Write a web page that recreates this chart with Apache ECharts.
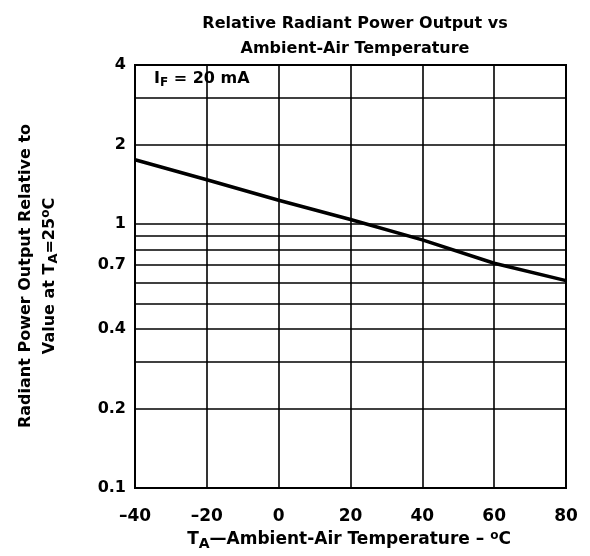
<!DOCTYPE html>
<html><head><meta charset="utf-8">
<script src="https://cdn.jsdelivr.net/npm/echarts@6/dist/echarts.min.js"></script>
<style>html,body{margin:0;padding:0;background:#fff}#c{width:590px;height:556px}</style>
</head><body><div id="c"></div>
<script>
// Data
const temps = [-40, -20, 0, 20, 40, 60, 80];
const relPower = [1.75, 1.47, 1.23, 1.04, 0.87, 0.71, 0.61];
const yGridValues = [4, 3, 2, 1, 0.9, 0.8, 0.7, 0.6, 0.5, 0.4, 0.3, 0.2, 0.1];
const yTickLabels = [4, 2, 1, 0.7, 0.4, 0.2, 0.1];
const xMin = -40, xMax = 80, xStep = 20;
const yMin = 0.1, yMax = 4;

const FONT = "'DejaVu Sans', 'Liberation Sans', Arial, sans-serif";
const chart = echarts.init(document.getElementById('c'), null, {renderer: 'canvas'});

const gridLines = yGridValues.map(v => ({
  yAxis: v,
  label: {
    show: yTickLabels.indexOf(v) >= 0,
    position: 'start',
    distance: 9,
    formatter: String(v),
    color: '#000',
    fontFamily: FONT,
    fontWeight: 'bold',
    fontSize: 16
  }
}));

const option = {
  animation: false,
  backgroundColor: '#fff',
  title: {
    text: 'Relative Radiant Power Output vs\nAmbient-Air Temperature',
    left: 350,
    top: 6,
    textAlign: 'center',
    textStyle: {fontFamily: FONT, fontWeight: 'bold', fontSize: 16, color: '#000', lineHeight: 25}
  },
  grid: {left: 135, right: 24, top: 65, bottom: 68, show: true, borderColor: '#000', borderWidth: 2, backgroundColor: 'transparent'},
  xAxis: {
    type: 'value', min: xMin, max: xMax, interval: xStep,
    axisLine: {show: false}, axisTick: {show: false},
    splitLine: {show: true, lineStyle: {color: '#000', width: 1.6}},
    axisLabel: {
      margin: 20, color: '#000', fontFamily: FONT, fontWeight: 'bold', fontSize: 17,
      formatter: v => String(v).replace('-', '\u2013')
    }
  },
  yAxis: {
    type: 'log', logBase: 10, min: yMin, max: yMax,
    axisLine: {show: false}, axisTick: {show: false},
    axisLabel: {show: false}, splitLine: {show: false}, minorSplitLine: {show: false}
  },
  series: [
    {
      type: 'line', data: [], z: 1, silent: true,
      markLine: {
        silent: true, symbol: 'none', animation: false,
        lineStyle: {color: '#000', width: 1.6, type: 'solid'},
        data: gridLines
      }
    },
    {
      type: 'line', z: 5, showSymbol: false, symbol: 'none',
      lineStyle: {color: '#000', width: 3.5},
      data: temps.map((t, i) => [t, relPower[i]])
    }
  ],
  graphic: [
    {
      type: 'text', x: 154, y: 79, z: 10,
      style: {
        text: 'I{f|F} = 20 mA', fill: '#000', verticalAlign: 'middle',
        font: 'bold 16px ' + FONT,
        rich: {f: {fontSize: 12, fontWeight: 'bold', fontFamily: FONT, fill: '#000', padding: [8, 0, 0, 0]}}
      }
    },
    {
      type: 'text', x: 349, y: 540,
      style: {
        text: 'T{sub|A}\u2014Ambient-Air Temperature \u2013 {sup|o}C', fill: '#000',
        align: 'center', verticalAlign: 'middle',
        font: 'bold 17px ' + FONT,
        rich: {
          sub: {fontSize: 14, fontWeight: 'bold', fontFamily: FONT, fill: '#000', padding: [9, 0, 0, 0]},
          sup: {fontSize: 12, fontWeight: 'bold', fontFamily: FONT, fill: '#000', padding: [0, 0, 9, 0]}
        }
      }
    },
    {
      type: 'text', x: 38, y: 276, rotation: Math.PI / 2,
      style: {
        text: 'Radiant Power Output Relative to\nValue at T{sub|A}=25{sup|o}C', fill: '#000',
        align: 'center', verticalAlign: 'middle', lineHeight: 24,
        font: 'bold 16px ' + FONT,
        rich: {
          sub: {fontSize: 13, fontWeight: 'bold', fontFamily: FONT, fill: '#000', padding: [8, 0, 0, 0]},
          sup: {fontSize: 12, fontWeight: 'bold', fontFamily: FONT, fill: '#000', padding: [0, 0, 8, 0]}
        }
      }
    }
  ]
};
chart.setOption(option);
</script></body></html>
